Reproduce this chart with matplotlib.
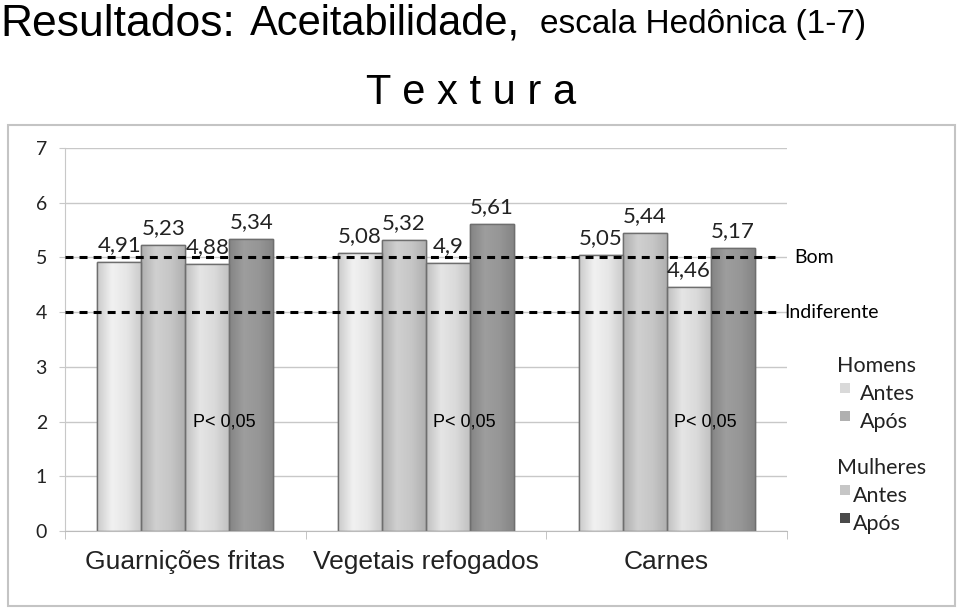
import matplotlib
matplotlib.use("Agg")
import numpy as np
import matplotlib.pyplot as plt
from matplotlib.patches import Rectangle
from matplotlib.colors import LinearSegmentedColormap, to_rgb

SOFT = ['Lato', 'DejaVu Sans']
SANS = ['Liberation Sans', 'DejaVu Sans']

categories = ["Guarnições fritas", "Vegetais refogados", "Carnes"]
series = ["Homens Antes", "Homens Após", "Mulheres Antes", "Mulheres Após"]
homens_antes = [4.91, 5.08, 5.05]
homens_apos = [5.23, 5.32, 5.44]
mulheres_antes = [4.88, 4.90, 4.46]
mulheres_apos = [5.34, 5.61, 5.17]
value_labels = [["4,91", "5,08", "5,05"], ["5,23", "5,32", "5,44"],
                ["4,88", "4,9", "4,46"], ["5,34", "5,61", "5,17"]]
ref_levels = [5, 4]
ref_labels = ["Bom", "Indiferente"]
p_text = "P< 0,05"
yticks = [0, 1, 2, 3, 4, 5, 6, 7]

bar_colors = ["#e6e6e6", "#c6c6c6", "#dadada", "#969696"]
legend_colors = ["#d9d9d9", "#b0b0b0", "#c6c6c6", "#4a4a4a"]

fig = plt.figure(figsize=(9.59, 6.08), dpi=100)
fig.patch.set_facecolor("white")

fig.patches.append(Rectangle((8/959, 1-606/608), 947/959, 481/608, transform=fig.transFigure,
                             fill=False, edgecolor="#c4c4c4", linewidth=1.5))

ax = fig.add_axes([65/959, 1-531/608, 722/959, 383/608])
ax.set_xlim(-0.5, 2.5)
ax.set_ylim(0, 7)
ax.set_yticks(yticks)
ax.set_yticklabels([str(t) for t in yticks], family=SOFT, fontsize=14, color="#222222")
ax.yaxis.grid(True, color="#c8c8c8", linewidth=1)
ax.set_axisbelow(True)
for s in ["top", "right"]:
    ax.spines[s].set_visible(False)
ax.spines["left"].set_color("#c8c8c8")
ax.spines["bottom"].set_color("#bbbbbb")
ax.tick_params(axis="y", length=4, color="#c8c8c8", pad=9)

ax.set_xticks(range(len(categories)))
ax.set_xticklabels(categories, family=SANS, fontsize=19, color="#222222")
ax.tick_params(axis="x", length=0, pad=14)
ax.set_xticks([-0.5, 0.5, 1.5, 2.5], minor=True)
ax.tick_params(axis="x", which="minor", length=6, color="#bbbbbb")

w = 0.183
data = [homens_antes, homens_apos, mulheres_antes, mulheres_apos]
for i, vals in enumerate(data):
    xs = [c + (i - 1.5) * w for c in range(len(categories))]
    bars = ax.bar(xs, vals, width=w, color=bar_colors[i], edgecolor="#6e6e6e", linewidth=1, zorder=2)
    base = np.array(to_rgb(bar_colors[i]))
    edge = base * 0.88
    light = np.minimum(base * 1.05, 1)
    cmap = LinearSegmentedColormap.from_list("g%d" % i, [edge, light, base, edge])
    grad = np.linspace(0, 1, 64).reshape(1, -1)
    for b in bars:
        x0, y0 = b.get_x(), b.get_y()
        im = ax.imshow(grad, cmap=cmap, aspect="auto", extent=(x0, x0 + b.get_width(), y0, y0 + b.get_height()),
                       zorder=2.1, interpolation="bicubic")
        im.set_clip_path(b)
        ax.add_patch(Rectangle((x0, y0), b.get_width(), b.get_height(), fill=False,
                               edgecolor="#6e6e6e", linewidth=1, zorder=2.2))
    for x, v, lab in zip(xs, vals, value_labels[i]):
        ax.text(x, v + 0.2, lab, ha="center", va="baseline", family=SOFT, fontsize=16,
                color="#222222", zorder=4)

ax.set_xlim(-0.5, 2.5)
ax.set_ylim(0, 7)

for lvl, xend in zip(ref_levels, [2.45, 2.46]):
    ax.plot([-0.5, xend], [lvl, lvl], color="black", linestyle=(0, (2.6, 2.0)),
            linewidth=2.2, clip_on=False, zorder=3)
ax.text(2.53, 5, ref_labels[0], ha="left", va="center", family=SOFT, fontsize=14, clip_on=False)
ax.text(2.49, 4, ref_labels[1], ha="left", va="center", family=SOFT, fontsize=14, clip_on=False)

for c in range(len(categories)):
    ax.text(c + 0.16, 2.0, p_text, ha="center", va="center", family=SANS,
            fontsize=13, zorder=4)

def ftxt(x, y, s, **kw):
    fig.text(x/959, 1-y/608, s, va="center", ha="left", family=SOFT, **kw)

ftxt(837, 366, "Homens", fontsize=15.5, color="#222222")
ftxt(860, 394, "Antes", fontsize=15.5, color="#222222")
ftxt(860, 422, "Após", fontsize=15.5, color="#222222")
ftxt(837, 468, "Mulheres", fontsize=15.5, color="#222222")
ftxt(853, 496, "Antes", fontsize=15.5, color="#222222")
ftxt(853, 524, "Após", fontsize=15.5, color="#222222")
for (x, y), col in zip([(840, 388), (840, 416), (840, 490), (840, 518)], legend_colors):
    fig.patches.append(Rectangle((x/959, 1-(y+5)/608), 10/959, 10/608, transform=fig.transFigure,
                                 facecolor=col, edgecolor="none"))

fig.text(0/959, 1-24/608, "Resultados:", family=SANS, fontsize=32, va="center", ha="left")
fig.text(250/959, 1-24/608, "Aceitabilidade,", family=SANS, fontsize=30, va="center", ha="left")
fig.text(540/959, 1-25/608, "escala Hedônica (1-7)", family=SANS, fontsize=24, va="center", ha="left")
fig.text(471/959, 1-93/608, "T e x t u r a", family=SANS, fontsize=30, va="center", ha="center")

fig.savefig("out.png", dpi=100)
